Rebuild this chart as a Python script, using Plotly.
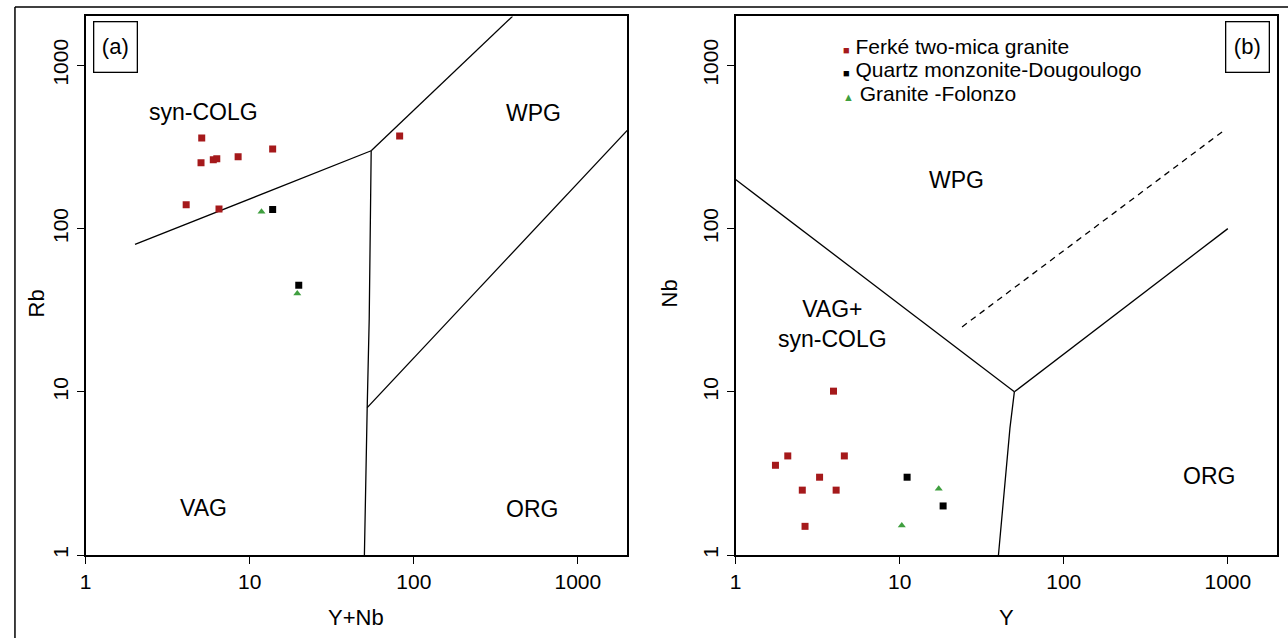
import plotly.graph_objects as go

W, H = 1288, 641

# ---------------- data ----------------
# Panel (a): Rb vs Y+Nb
a_ferke_ynb = [5.1, 5.05, 6.0, 6.3, 8.5, 13.8, 4.1, 6.5, 82]
a_ferke_rb = [359, 253, 264, 268, 276, 307, 140, 132, 369]
a_qm_ynb = [13.8, 19.9]
a_qm_rb = [131, 45]
a_fol_ynb = [11.8, 19.5]
a_fol_rb = [127, 40]

# Panel (b): Nb vs Y
b_ferke_y = [3.95, 2.08, 1.75, 4.6, 3.25, 2.55, 4.1, 2.65]
b_ferke_nb = [10.1, 4.05, 3.55, 4.05, 3.0, 2.5, 2.5, 1.5]
b_qm_y = [11.1, 18.4]
b_qm_nb = [3.0, 2.0]
b_fol_y = [17.3, 10.3]
b_fol_nb = [2.55, 1.52]

# Discrimination boundaries (Pearce et al. 1984)
a_colg_vag_x = [2, 55]
a_colg_vag_y = [80, 300]
a_vag_wpg_x = [55, 53.5, 52, 50]
a_vag_wpg_y = [300, 28, 8, 1]
a_colg_wpg_x = [55, 400]
a_colg_wpg_y = [300, 2000]
a_wpg_org_x = [52, 2000]
a_wpg_org_y = [8, 400]

b_vag_wpg_x = [1, 50]
b_vag_wpg_y = [200, 10]
b_wpg_org_x = [50, 1000]
b_wpg_org_y = [10, 100]
b_vag_org_x = [50, 47, 40]
b_vag_org_y = [10, 6, 1]
b_dash_x = [24, 950]
b_dash_y = [25, 400]

tick_vals = [1, 10, 100, 1000]
tick_text = ["1", "10", "100", "1000"]

series_names = ["Ferké two-mica granite", "Quartz monzonite-Dougoulogo", "Granite -Folonzo"]

RED = "#a5191b"
BLACK = "#000000"
GREEN = "#3f9f3f"
FONT = "Liberation Sans, Arial, sans-serif"

fig = go.Figure()

def boundary(x, y, xa, ya, dash="solid"):
    fig.add_trace(go.Scatter(x=x, y=y, mode="lines", xaxis=xa, yaxis=ya,
                             line=dict(color="black", width=1.3, dash=dash),
                             showlegend=False, hoverinfo="skip"))

boundary(a_colg_vag_x, a_colg_vag_y, "x", "y")
boundary(a_vag_wpg_x, a_vag_wpg_y, "x", "y")
boundary(a_colg_wpg_x, a_colg_wpg_y, "x", "y")
boundary(a_wpg_org_x, a_wpg_org_y, "x", "y")
boundary(b_vag_wpg_x, b_vag_wpg_y, "x2", "y2")
boundary(b_wpg_org_x, b_wpg_org_y, "x2", "y2")
boundary(b_vag_org_x, b_vag_org_y, "x2", "y2")
boundary(b_dash_x, b_dash_y, "x2", "y2", dash="6px,5px")

def pts(x, y, xa, ya, color, symbol, name):
    fig.add_trace(go.Scatter(x=x, y=y, mode="markers", xaxis=xa, yaxis=ya, name=name,
                             marker=dict(color=color, symbol=symbol, size=7,
                                         line=dict(width=0)),
                             showlegend=False))

pts(a_ferke_ynb, a_ferke_rb, "x", "y", RED, "square", series_names[0])
pts(a_qm_ynb, a_qm_rb, "x", "y", BLACK, "square", series_names[1])
pts(a_fol_ynb, a_fol_rb, "x", "y", GREEN, "triangle-up", series_names[2])
pts(b_ferke_y, b_ferke_nb, "x2", "y2", RED, "square", series_names[0])
pts(b_qm_y, b_qm_nb, "x2", "y2", BLACK, "square", series_names[1])
pts(b_fol_y, b_fol_nb, "x2", "y2", GREEN, "triangle-up", series_names[2])

def px(p):
    return p / W

def py(p):
    return 1 - p / H

axis_common = dict(type="log", range=[0, 3.3], showline=True, mirror=True,
                   linecolor="black", linewidth=1.5, ticks="outside", ticklen=7,
                   tickwidth=1.3, tickcolor="black", tickvals=tick_vals,
                   ticktext=tick_text, showgrid=False, zeroline=False,
                   tickfont=dict(family=FONT, size=21, color="black"))

fig.update_layout(
    width=W, height=H,
    margin=dict(l=0, r=0, t=0, b=0),
    paper_bgcolor="white", plot_bgcolor="white",
    font=dict(family=FONT, size=22, color="black"),
    xaxis=dict(domain=[px(80), px(624)], anchor="y", **axis_common),
    yaxis=dict(domain=[py(557.7), py(16.5)], anchor="x", tickangle=-90, **axis_common),
    xaxis2=dict(domain=[px(733), px(1277)], anchor="y2", **axis_common),
    yaxis2=dict(domain=[py(557.7), py(16.5)], anchor="x2", tickangle=-90, **axis_common),
)

ann = []

def text(x, y, s, size=22, angle=0, xanchor="center"):
    ann.append(dict(x=px(x), y=py(y), xref="paper", yref="paper", text=s,
                    showarrow=False, textangle=angle, xanchor=xanchor, yanchor="middle",
                    font=dict(family=FONT, size=size, color="black")))

# axis titles
text(352, 620, "Y+Nb")
text(1005, 620, "Y")
text(31, 305, "Rb", angle=-90)
text(667, 295, "Nb", angle=-90)

# region labels
text(198, 113, "syn-COLG", size=23)
text(530, 114, "WPG", size=23)
text(198, 510, "VAG", size=23)
text(528, 511, "ORG", size=23)
text(955, 181, "WPG", size=23)
text(830, 326, "VAG+<br>syn-COLG", size=23)
text(1209, 478, "ORG", size=23)

# panel labels in boxes
for cx, lab in [(110, "(a)"), (1247.5, "(b)")]:
    ann.append(dict(x=px(cx), y=py(47.5), xref="paper", yref="paper", text=lab,
                    showarrow=False, xanchor="center", yanchor="middle",
                    width=42, height=49, borderpad=0, bordercolor="black",
                    borderwidth=1.3, bgcolor="white",
                    font=dict(family=FONT, size=22, color="black")))

# legend (drawn as text rows)
legend_rows = [(46.5, RED, "■"), (70, BLACK, "■"), (93.5, GREEN, "▲")]
for (yy, col, glyph), name in zip(legend_rows, series_names):
    ann.append(dict(x=px(839), y=py(yy), xref="paper", yref="paper",
                    text=f'<span style="color:{col};font-size:11px">{glyph}</span> {name}',
                    showarrow=False, xanchor="left", yanchor="middle",
                    font=dict(family=FONT, size=21, color="black")))

fig.update_layout(annotations=ann)

# outer frame (top and left edges)
fig.add_shape(type="line", xref="paper", yref="paper", x0=px(9), x1=1, y0=py(7), y1=py(7),
              line=dict(color="black", width=1.5))
fig.add_shape(type="line", xref="paper", yref="paper", x0=px(9), x1=px(9), y0=py(7), y1=0,
              line=dict(color="black", width=1.5))

fig.write_html("out.html",
               config={"displayModeBar": False},
               post_script="document.body.style.margin='0';document.body.style.overflow='hidden';")
